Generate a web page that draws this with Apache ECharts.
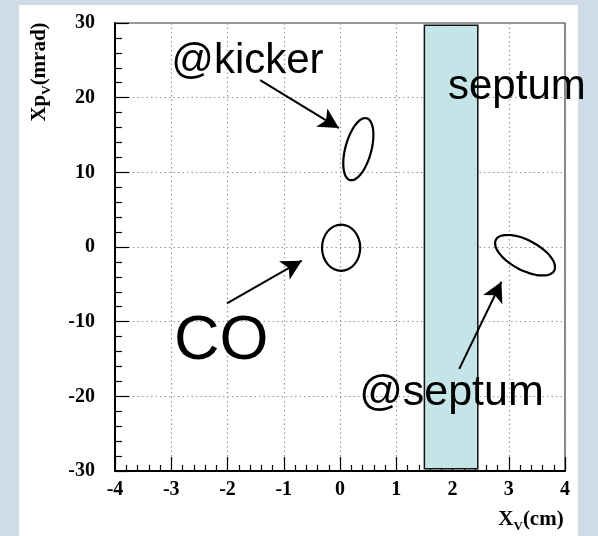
<!DOCTYPE html>
<html>
<head>
<meta charset="utf-8">
<script src="https://cdn.jsdelivr.net/npm/echarts@6/dist/echarts.min.js"></script>
<style>
  html, body { margin: 0; padding: 0; background: #cfdbe6; }
  #panel { position: absolute; left: 19px; top: 5px; width: 559px; height: 531px; background: #ffffff; }
  #chart { position: absolute; left: 0; top: 0; width: 598px; height: 536px; }
</style>
</head>
<body>
<div id="panel"></div>
<div id="chart"></div>
<script>
// Axis ranges / ticks
const xRange = [-4, 4];
const yRange = [-30, 30];
const xInterval = 1;
const yInterval = 10;

// Beam ellipse outlines (x in cm, xp in mrad)
const coX  = [0.36, 0.334, 0.260, 0.150, 0.02, -0.110, -0.220, -0.294, -0.32, -0.294, -0.220, -0.110, 0.02, 0.150, 0.260, 0.334, 0.36];
const coY  = [-0.1, -1.29, -2.29, -2.96, -3.2, -2.96, -2.29, -1.29, -0.1, 1.09, 2.09, 2.76, 3.0, 2.76, 2.09, 1.09, -0.1];

const kickerX = [0.549, 0.516, 0.475, 0.429, 0.379, 0.327, 0.274, 0.224, 0.178, 0.137, 0.104, 0.079, 0.063, 0.058, 0.063, 0.078,
                 0.103, 0.136, 0.177, 0.223, 0.273, 0.325, 0.378, 0.428, 0.474, 0.515, 0.548, 0.573, 0.589, 0.594, 0.589, 0.574, 0.549];
const kickerY = [12.65, 11.85, 11.10, 10.42, 9.85, 9.41, 9.10, 8.95, 8.96, 9.13, 9.45, 9.91, 10.49, 11.18, 11.93, 12.74,
                 13.55, 14.35, 15.10, 15.78, 16.35, 16.79, 17.10, 17.25, 17.24, 17.07, 16.75, 16.29, 15.71, 15.02, 14.27, 13.46, 12.65];

const septumEllX = [3.165, 3.066, 2.977, 2.898, 2.836, 2.790, 2.763, 2.758, 2.772, 2.806, 2.859, 2.930, 3.012, 3.106, 3.207, 3.312,
                    3.415, 3.514, 3.603, 3.682, 3.744, 3.790, 3.817, 3.822, 3.808, 3.774, 3.721, 3.651, 3.568, 3.474, 3.373, 3.268, 3.165];
const septumEllY = [-2.87, -2.43, -1.94, -1.42, -0.89, -0.36, 0.135, 0.59, 0.97, 1.28, 1.49, 1.60, 1.61, 1.52, 1.33, 1.04,
                    0.67, 0.23, -0.26, -0.78, -1.31, -1.84, -2.34, -2.79, -3.17, -3.48, -3.69, -3.80, -3.81, -3.72, -3.53, -3.24, -2.87];

// Septum blade extent
const septumBladeX = [1.5, 2.45];
const septumBladeY = [-29.7, 29.7];

// Annotation texts (anchor = left / vertical middle, data coords)
const annText = ['@kicker', 'septum', 'CO', '@septum'];
const annX    = [-3.00, 1.92, -2.95, 0.34];
const annY    = [24.84, 21.43, -12.72, -19.55];
const annSize = [42, 42, 63, 43];

// Arrows (from -> to, data coords)
const arrowFromX = [-1.42, -2.01, 2.12];
const arrowFromY = [22.36, -7.54, -16.33];
const arrowToX   = [-0.02, -0.68, 2.87];
const arrowToY   = [15.93, -1.83, -4.65];

const zip = (xs, ys) => xs.map((x, i) => [x, ys[i]]);

const chart = echarts.init(document.getElementById('chart'), null, { renderer: 'canvas' });

const tickFont = { fontFamily: 'Liberation Serif', fontWeight: 'bold', fontSize: 20, color: '#000' };
const ellStyle = { color: '#000', width: 2.2 };

const option = {
  backgroundColor: 'transparent',
  animation: false,
  grid: { left: 115, top: 23, width: 450, height: 448, show: true, borderColor: '#333', borderWidth: 1.2, backgroundColor: 'transparent' },
  xAxis: {
    type: 'value', min: xRange[0], max: xRange[1], interval: xInterval,
    axisLine: { onZero: false, lineStyle: { color: '#000', width: 2 } },
    axisTick: { inside: true, length: 14, lineStyle: { color: '#000', width: 1.2 } },
    minorTick: { show: true, splitNumber: 5, length: 6, lineStyle: { color: '#000', width: 1.2 } },
    splitLine: { show: true, lineStyle: { color: '#999', width: 1.2, type: [1.5, 3] } },
    axisLabel: Object.assign({ margin: 9 }, tickFont)
  },
  yAxis: {
    type: 'value', min: yRange[0], max: yRange[1], interval: yInterval,
    axisLine: { onZero: false, lineStyle: { color: '#000', width: 2 } },
    axisTick: { inside: true, length: 14, lineStyle: { color: '#000', width: 1.2 } },
    minorTick: { show: true, splitNumber: 5, length: 7, lineStyle: { color: '#000', width: 1.2 } },
    splitLine: { show: true, lineStyle: { color: '#999', width: 1.2, type: [1.5, 3] } },
    axisLabel: Object.assign({ margin: 20 }, tickFont)
  },
  graphic: [
    {
      type: 'text', x: 40, y: 72, rotation: Math.PI / 2,
      style: {
        text: '{a|Xp}{s|V}{a|(mrad)}', align: 'center', verticalAlign: 'middle',
        rich: {
          a: { fontFamily: 'Liberation Serif', fontWeight: 'bold', fontSize: 21, lineHeight: 26, fill: '#000' },
          s: { fontFamily: 'Liberation Serif', fontWeight: 'bold', fontSize: 13, lineHeight: 13, verticalAlign: 'bottom', fill: '#000' }
        }
      }
    },
    {
      type: 'text', x: 531, y: 520,
      style: {
        text: '{a|X}{s|V}{a|(cm)}', align: 'center', verticalAlign: 'middle',
        rich: {
          a: { fontFamily: 'Liberation Serif', fontWeight: 'bold', fontSize: 21, lineHeight: 26, fill: '#000' },
          s: { fontFamily: 'Liberation Serif', fontWeight: 'bold', fontSize: 13, lineHeight: 13, verticalAlign: 'bottom', fill: '#000' }
        }
      }
    }
  ],
  series: [
    {
      name: 'septum blade', type: 'line', data: [], z: 1,
      markArea: {
        silent: true,
        itemStyle: { color: '#c4e4e8', borderColor: '#111', borderWidth: 1.5, opacity: 1 },
        data: [[{ xAxis: septumBladeX[0], yAxis: septumBladeY[0] }, { xAxis: septumBladeX[1], yAxis: septumBladeY[1] }]]
      }
    },
    { name: 'CO', type: 'line', data: zip(coX, coY), smooth: true, showSymbol: false, lineStyle: ellStyle, z: 3 },
    { name: 'kicker', type: 'line', data: zip(kickerX, kickerY), smooth: true, showSymbol: false, lineStyle: ellStyle, z: 3 },
    { name: 'septum', type: 'line', data: zip(septumEllX, septumEllY), smooth: true, showSymbol: false, lineStyle: ellStyle, z: 3 },
    {
      name: 'arrows', type: 'line', data: [], z: 4,
      markLine: {
        silent: true, symbol: ['none', 'arrow'], symbolSize: [16, 20],
        label: { show: false },
        lineStyle: { color: '#000', width: 2, type: 'solid', opacity: 1 },
        data: arrowFromX.map((x, i) => [{ coord: [x, arrowFromY[i]] }, { coord: [arrowToX[i], arrowToY[i]] }])
      }
    },
    {
      name: 'labels', type: 'scatter', symbolSize: 0, z: 5,
      itemStyle: { opacity: 1 },
      data: annText.map((t, i) => ({
        value: [annX[i], annY[i]], name: t,
        label: { show: true, formatter: t, position: [0, 0], align: 'left', verticalAlign: 'middle',
                 fontFamily: 'Liberation Sans', fontSize: annSize[i], color: '#000', opacity: 1 }
      }))
    }
  ]
};
chart.setOption(option);
</script>
</body>
</html>
